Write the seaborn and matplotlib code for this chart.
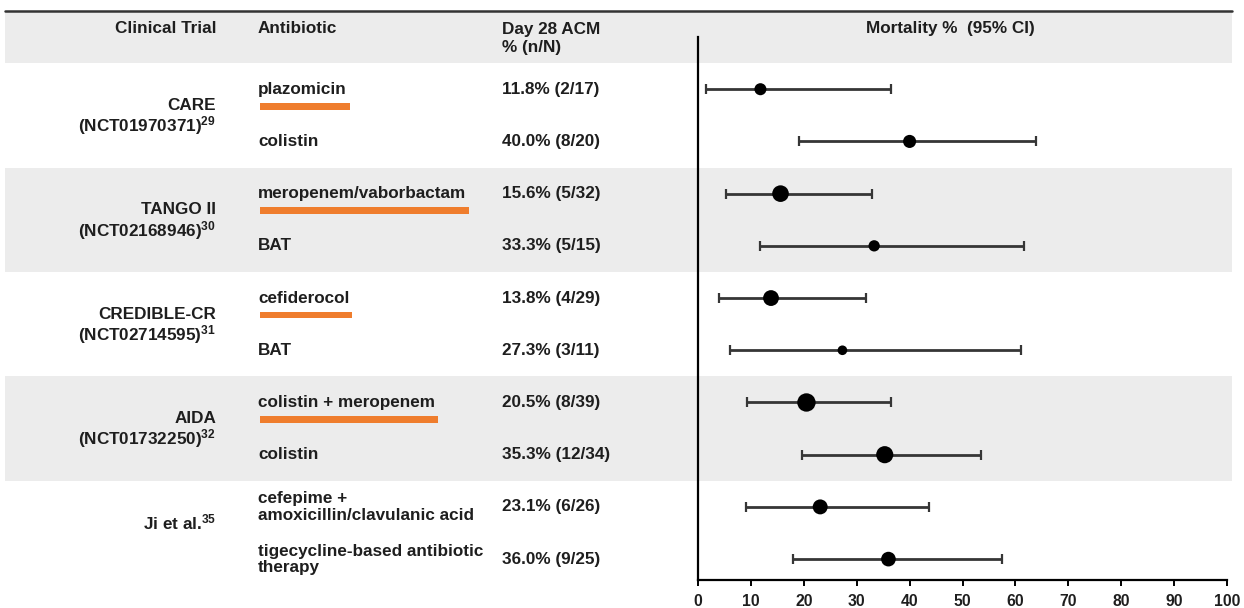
import matplotlib
matplotlib.use("Agg")
import matplotlib.pyplot as plt
import matplotlib.transforms as mtransforms
from matplotlib.patches import Rectangle
import numpy as np
import pandas as pd
import seaborn as sns

# Table / forest data (Day 28 all-cause mortality, 95% CI)
trials = ["CARE", "TANGO II", "CREDIBLE-CR", "AIDA", "Ji et al."]
trial_ids = ["(NCT01970371)", "(NCT02168946)", "(NCT02714595)", "(NCT01732250)", ""]
trial_refs = ["29", "30", "31", "32", "35"]
antibiotics = [
    "plazomicin", "colistin",
    "meropenem/vaborbactam", "BAT",
    "cefiderocol", "BAT",
    "colistin + meropenem", "colistin",
    "cefepime +\namoxicillin/clavulanic acid", "tigecycline-based antibiotic\ntherapy",
]
deaths = [2, 8, 5, 5, 4, 3, 8, 12, 6, 9]
totals = [17, 20, 32, 15, 29, 11, 39, 34, 26, 25]
mortality = [11.8, 40.0, 15.6, 33.3, 13.8, 27.3, 20.5, 35.3, 23.1, 36.0]
ci_low = [1.5, 19.1, 5.3, 11.8, 3.9, 6.0, 9.3, 19.7, 9.0, 18.0]
ci_high = [36.4, 63.9, 32.8, 61.6, 31.7, 61.0, 36.5, 53.5, 43.6, 57.5]
highlighted = [True, False, True, False, True, False, True, False, False, False]
x_ticks = [0, 10, 20, 30, 40, 50, 60, 70, 80, 90, 100]

df = pd.DataFrame({
    "row": np.arange(len(antibiotics)),
    "antibiotic": antibiotics,
    "n": deaths,
    "N": totals,
    "mortality": mortality,
    "lo": ci_low,
    "hi": ci_high,
})

sns.set_theme(style="white")
plt.rcParams["font.family"] = ["Liberation Sans", "DejaVu Sans"]
plt.rcParams["font.weight"] = "bold"
plt.rcParams["mathtext.default"] = "regular"

TXT = "#1e1e1e"
BAND = "#ececec"
ORANGE = "#ef7d2d"
FS = 12.3

fig = plt.figure(figsize=(12.44, 6.08), dpi=100)
ax = fig.add_axes([698 / 1244, 1 - 580 / 608, 529 / 1244, 543 / 608])
ax.set_zorder(3)

# error bars then points (size scaled by N)
ax.errorbar(df["mortality"], df["row"],
            xerr=[df["mortality"] - df["lo"], df["hi"] - df["mortality"]],
            fmt="none", ecolor="#363636", elinewidth=2.0, capsize=3.5,
            capthick=1.6, zorder=3)
sns.scatterplot(data=df, x="mortality", y="row", size="N",
                sizes=(48, 175), size_norm=(11, 39), color="black",
                edgecolor="black", linewidth=0, legend=False, zorder=4, ax=ax)

ax.set_xlim(0, 100)
ax.set_ylim(9.40, -1.0)
ax.set_xticks(x_ticks)
ax.set_yticks([])
ax.set_xlabel("")
ax.set_ylabel("")
ax.patch.set_alpha(0)
for side in ["top", "right"]:
    ax.spines[side].set_visible(False)
for side in ["left", "bottom"]:
    ax.spines[side].set_color("black")
    ax.spines[side].set_linewidth(1.6)
    ax.spines[side].set_zorder(5)
ax.tick_params(axis="x", direction="out", length=4, width=1.4, color="black",
               labelsize=11.3, labelcolor=TXT, pad=6, bottom=True)
for lab in ax.get_xticklabels():
    lab.set_fontweight("bold")

# blended transform: x in figure fraction, y in row units
tr = mtransforms.blended_transform_factory(fig.transFigure, ax.transData)
x0, x1 = 5 / 1244, 1232 / 1244

# grey bands: header + alternating trials
for top, bot in [(-1.5, -0.5), (1.5, 3.5), (5.5, 7.5)]:
    fig.patches.append(Rectangle((x0, top), x1 - x0, bot - top, transform=tr,
                                 facecolor=BAND, edgecolor="none", zorder=0))
fig.add_artist(plt.Line2D([x0, x1], [-1.5, -1.5], transform=tr,
                          color="#333333", lw=1.8, zorder=6))

# header
col_trial, col_abx, col_acm = 216 / 1244, 258 / 1244, 502 / 1244
fig.text(col_trial, -1.17, "Clinical Trial", transform=tr, ha="right",
         va="center", fontsize=FS, color=TXT)
fig.text(col_abx, -1.17, "Antibiotic", transform=tr, ha="left",
         va="center", fontsize=FS, color=TXT)
fig.text(col_acm, -0.97, "Day 28 ACM\n% (n/N)", transform=tr, ha="left",
         va="center", fontsize=FS, color=TXT, linespacing=1.2)
fig.text(950 / 1244, -1.17, "Mortality %  (95% CI)", transform=tr,
         ha="center", va="center", fontsize=FS, color=TXT)

# trial names (reference number as superscript)
for g, (name, tid, ref) in enumerate(zip(trials, trial_ids, trial_refs)):
    r0 = 2 * g
    sup = "$^{" + ref + "}$"
    if tid:
        fig.text(col_trial, r0 + 0.31, name, transform=tr, ha="right",
                 va="center", fontsize=FS, color=TXT)
        fig.text(col_trial, r0 + 0.70, tid + sup, transform=tr,
                 ha="right", va="center", fontsize=FS, color=TXT)
    else:
        fig.text(col_trial, r0 + 0.29, name + sup, transform=tr,
                 ha="right", va="center", fontsize=FS, color=TXT)

# antibiotic + ACM columns, orange underline under the study drug
fig.canvas.draw()
renderer = fig.canvas.get_renderer()
for i, row in df.iterrows():
    t = fig.text(col_abx, row["row"], row["antibiotic"], transform=tr,
                 ha="left", va="center", fontsize=FS, color=TXT,
                 linespacing=1.1)
    fig.text(col_acm, row["row"], f"{row['mortality']:.1f}% ({row['n']}/{row['N']})",
             transform=tr, ha="left", va="center", fontsize=FS, color=TXT)
    if highlighted[i]:
        bb = t.get_window_extent(renderer=renderer)
        w = (bb.x1 - bb.x0 + 1) / 1244
        fig.patches.append(Rectangle((col_abx + 2 / 1244, row["row"] + 0.26),
                                     w, 0.13, transform=tr, facecolor=ORANGE,
                                     edgecolor="none", zorder=1))

fig.savefig("out.png", dpi=100)
